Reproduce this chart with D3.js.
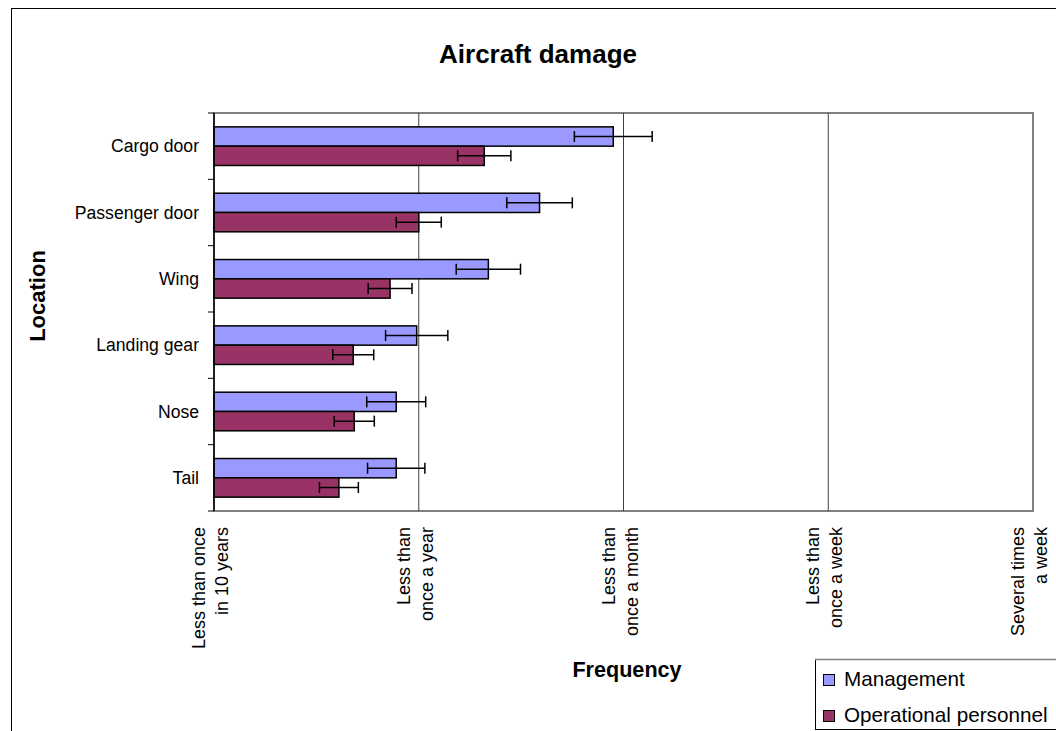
<!DOCTYPE html>
<html>
<head>
<meta charset="utf-8">
<script src="https://cdn.jsdelivr.net/npm/d3@7"></script>
<style>
  html, body { margin: 0; padding: 0; background: #fff; }
  svg { display: block; font-family: "Liberation Sans", Arial, sans-serif; }
</style>
</head>
<body>
<script>
const categories = ["Cargo door", "Passenger door", "Wing", "Landing gear", "Nose", "Tail"];
const seriesNames = ["Management", "Operational personnel"];
const management = [1.95, 1.59, 1.34, 0.99, 0.89, 0.89];
const managementErr = [0.19, 0.16, 0.157, 0.152, 0.144, 0.14];
const operational = [1.32, 1.0, 0.86, 0.68, 0.685, 0.61];
const operationalErr = [0.13, 0.11, 0.107, 0.10, 0.098, 0.095];
const tickValues = [0, 1, 2, 3, 4];
const tickLabels = [
  ["Less than once", "in 10 years"],
  ["Less than", "once a year"],
  ["Less than", "once a month"],
  ["Less than", "once a week"],
  ["Several times", "a week"]
];
const colors = ["#9999FF", "#993366"];

const W = 1056, H = 731;
const svg = d3.select("body").append("svg").attr("width", W).attr("height", H);

// outer frame
svg.append("rect").attr("x", 11.5).attr("y", 8.5).attr("width", 1100).attr("height", 800)
  .attr("fill", "#fff").attr("stroke", "#000").attr("stroke-width", 1);

const plot = { left: 214, right: 1033, top: 113, bottom: 511 };

const x = d3.scaleLinear().domain([0, 4]).range([plot.left, plot.right]);
const y = d3.scaleBand().domain(categories).range([plot.top, plot.bottom])
  .paddingInner(0.418).paddingOuter(0.209);
const ySub = d3.scaleBand().domain(seriesNames).range([0, y.bandwidth()]);

// title
svg.append("text").attr("x", 538).attr("y", 63).attr("text-anchor", "middle")
  .attr("font-size", 26).attr("font-weight", "bold").text("Aircraft damage");

// plot border (gray)
svg.append("rect").attr("x", plot.left).attr("y", plot.top)
  .attr("width", plot.right - plot.left).attr("height", plot.bottom - plot.top)
  .attr("fill", "none").attr("stroke", "#808080").attr("stroke-width", 2);

// gridlines
svg.append("g").selectAll("line").data(tickValues.filter(v => v > 0 && v < 4)).join("line")
  .attr("x1", d => x(d)).attr("x2", d => x(d))
  .attr("y1", plot.top).attr("y2", plot.bottom)
  .attr("stroke", "#404040").attr("stroke-width", 1);

// bars
const series = [
  { name: seriesNames[0], values: management, errs: managementErr, color: colors[0] },
  { name: seriesNames[1], values: operational, errs: operationalErr, color: colors[1] }
];

const g = svg.append("g");
series.forEach(s => {
  g.selectAll(null).data(categories).join("rect")
    .attr("x", x(0))
    .attr("y", c => y(c) + ySub(s.name))
    .attr("width", (c, i) => x(s.values[i]) - x(0))
    .attr("height", ySub.bandwidth())
    .attr("fill", s.color).attr("stroke", "#000").attr("stroke-width", 1.5);
});

// error bars
series.forEach(s => {
  const eg = svg.append("g").attr("stroke", "#000").attr("stroke-width", 1.5);
  categories.forEach((c, i) => {
    const cy = y(c) + ySub(s.name) + ySub.bandwidth() / 2;
    const lo = x(s.values[i] - s.errs[i]);
    const hi = x(s.values[i] + s.errs[i]);
    eg.append("line").attr("x1", lo).attr("x2", hi).attr("y1", cy).attr("y2", cy);
    eg.append("line").attr("x1", lo).attr("x2", lo).attr("y1", cy - 5.5).attr("y2", cy + 5.5);
    eg.append("line").attr("x1", hi).attr("x2", hi).attr("y1", cy - 5.5).attr("y2", cy + 5.5);
  });
});

// y axis line
svg.append("line").attr("x1", plot.left).attr("x2", plot.left)
  .attr("y1", plot.top).attr("y2", plot.bottom).attr("stroke", "#000").attr("stroke-width", 1.5);

// y axis ticks at band boundaries
const step = y.step();
const boundaries = d3.range(categories.length + 1).map(i => plot.top + i * step);
svg.append("g").selectAll("line").data(boundaries).join("line")
  .attr("x1", plot.left - 6).attr("x2", plot.left)
  .attr("y1", d => d).attr("y2", d => d)
  .attr("stroke", "#000").attr("stroke-width", 1);

// category labels
svg.append("g").selectAll("text").data(categories).join("text")
  .attr("x", 199).attr("y", c => y(c) + y.bandwidth() / 2 + 6)
  .attr("text-anchor", "end").attr("font-size", 17.6).text(c => c);

// x tick labels (rotated, two lines)
tickValues.forEach((v, i) => {
  const lines = tickLabels[i];
  lines.forEach((ln, j) => {
    const bx = x(v) + (j === 0 ? -9 : 14);
    svg.append("text")
      .attr("transform", `translate(${bx},527) rotate(-90)`)
      .attr("text-anchor", "end").attr("font-size", 18).text(ln);
  });
});

// axis titles
svg.append("text").attr("x", 627).attr("y", 677).attr("text-anchor", "middle")
  .attr("font-size", 21.6).attr("font-weight", "bold").text("Frequency");
svg.append("text").attr("transform", "translate(45,296) rotate(-90)")
  .attr("text-anchor", "middle").attr("font-size", 22).attr("font-weight", "bold").text("Location");

// legend
const lg = svg.append("g");
lg.append("rect").attr("x", 815.5).attr("y", 659.5).attr("width", 300).attr("height", 70)
  .attr("fill", "#fff").attr("stroke", "#000").attr("stroke-width", 1);
lg.append("line").attr("x1", 815).attr("x2", 1056).attr("y1", 659.5).attr("y2", 659.5)
  .attr("stroke", "#808080").attr("stroke-width", 1.5);
series.forEach((s, i) => {
  const ly = 674 + i * 36;
  lg.append("rect").attr("x", 823.5).attr("y", ly + 0.5).attr("width", 11).attr("height", 11)
    .attr("fill", s.color).attr("stroke", "#000").attr("stroke-width", 1);
  lg.append("text").attr("x", 844).attr("y", ly + 12).attr("font-size", 20.7).text(s.name);
});
</script>
</body>
</html>
